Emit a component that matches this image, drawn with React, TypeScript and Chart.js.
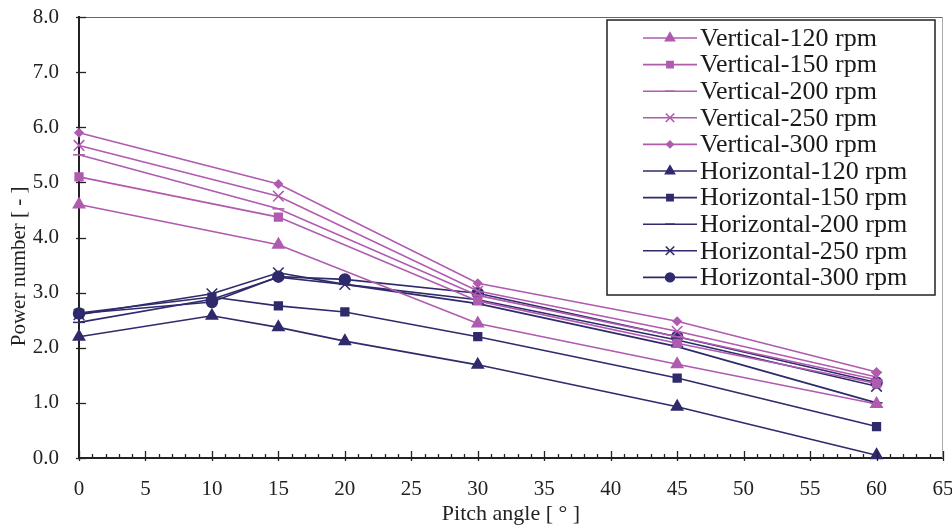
import React, { useEffect, useRef } from 'react';
import { Chart, registerables } from 'chart.js';
import { drawPoint } from 'chart.js/helpers';

Chart.register(...registerables);

// ---- Data ----
const anglesVertical = [0, 15, 30, 45, 60];
const anglesHorizontal = [0, 10, 15, 20, 30, 45, 60];

const vertical120 = [4.6, 3.87, 2.44, 1.7, 0.98];
const vertical150 = [5.1, 4.37, 2.85, 2.08, 1.35];
const vertical200 = [5.5, 4.52, 2.95, 2.2, 1.42];
const vertical250 = [5.67, 4.75, 3.03, 2.3, 1.47];
const vertical300 = [5.9, 4.97, 3.17, 2.48, 1.56];

const horizontal120 = [2.2, 2.58, 2.37, 2.12, 1.69, 0.93, 0.05];
const horizontal150 = [2.63, 2.92, 2.76, 2.65, 2.2, 1.45, 0.57];
const horizontal200 = [2.46, 2.88, 3.28, 3.15, 2.8, 2.02, 1.0];
const horizontal250 = [2.6, 2.98, 3.36, 3.15, 2.87, 2.14, 1.3];
const horizontal300 = [2.62, 2.83, 3.29, 3.24, 2.99, 2.2, 1.37];

const seriesLabels = [
  'Vertical-120 rpm',
  'Vertical-150 rpm',
  'Vertical-200 rpm',
  'Vertical-250 rpm',
  'Vertical-300 rpm',
  'Horizontal-120 rpm',
  'Horizontal-150 rpm',
  'Horizontal-200 rpm',
  'Horizontal-250 rpm',
  'Horizontal-300 rpm',
];

const xTitle = 'Pitch angle [ \u00b0 ]';
const yTitle = 'Power number [ - ]';

const VCOLOR = '#b05ab0';
const HCOLOR = '#2f2a6b';
const SERIF = "'Liberation Serif', 'DejaVu Serif', serif";

const markerStyles = [
  { pointStyle: 'triangle', radius: 6.5 },
  { pointStyle: 'rect', radius: 5.5 },
  { pointStyle: 'line', radius: 6 },
  { pointStyle: 'crossRot', radius: 7.5 },
  { pointStyle: 'rectRot', radius: 4 },
];
const markerStylesH = [
  { pointStyle: 'triangle', radius: 6.5 },
  { pointStyle: 'rect', radius: 5.5 },
  { pointStyle: 'line', radius: 6 },
  { pointStyle: 'crossRot', radius: 7.5 },
  { pointStyle: 'circle', radius: 5.5 },
];

const toPoints = (xs: number[], ys: number[]) => xs.map((x, i) => ({ x, y: ys[i] }));

const axisDecorPlugin = {
  id: 'axisDecor',
  afterDatasetsDraw(chart: any) {
    const { ctx, chartArea } = chart;
    const xs = chart.scales.x;
    const ys = chart.scales.y;
    ctx.save();
    ctx.lineWidth = 1;
    ctx.strokeStyle = '#666';
    ctx.beginPath();
    ctx.moveTo(chartArea.left, chartArea.top + 0.5);
    ctx.lineTo(chartArea.right, chartArea.top + 0.5);
    ctx.stroke();
    ctx.strokeStyle = '#aaa';
    ctx.beginPath();
    ctx.moveTo(chartArea.right - 0.5, chartArea.top);
    ctx.lineTo(chartArea.right - 0.5, chartArea.bottom);
    ctx.stroke();
    ctx.strokeStyle = '#222';
    ctx.lineWidth = 1.3;
    for (let v = xs.min; v <= xs.max; v += 1) {
      const px = Math.round(xs.getPixelForValue(v)) + 0.5;
      const major = v % 5 === 0;
      ctx.beginPath();
      ctx.moveTo(px, chartArea.bottom + (major ? 3 : 0));
      ctx.lineTo(px, chartArea.bottom - (major ? 7 : 4));
      ctx.stroke();
    }
    for (let v = ys.min; v <= ys.max; v += 1) {
      const py = Math.round(ys.getPixelForValue(v)) + 0.5;
      ctx.beginPath();
      ctx.moveTo(chartArea.left - 3, py);
      ctx.lineTo(chartArea.left + 7, py);
      ctx.stroke();
    }
    ctx.restore();
  },
};

const boxLegendPlugin = {
  id: 'boxLegend',
  afterDraw(chart: any) {
    const { ctx } = chart;
    const bx = 607, by = 20, bw = 328, bh = 275;
    ctx.save();
    ctx.fillStyle = '#fff';
    ctx.fillRect(bx, by, bw, bh);
    ctx.strokeStyle = '#222';
    ctx.lineWidth = 1.5;
    ctx.strokeRect(bx, by, bw, bh);
    const rowH = 26.6;
    chart.data.datasets.forEach((ds: any, i: number) => {
      const y = by + 18 + i * rowH;
      ctx.strokeStyle = ds.borderColor;
      ctx.lineWidth = 1.6;
      ctx.beginPath();
      ctx.moveTo(643, y);
      ctx.lineTo(697, y);
      ctx.stroke();
      ctx.fillStyle = ds.borderColor;
      drawPoint(
        ctx,
        {
          pointStyle: ds.pointStyle,
          radius: ds.pointRadius * 0.8,
          borderWidth: 1.5,
          rotation: 0,
        } as any,
        670,
        y
      );
      ctx.fillStyle = '#1a1a1a';
      ctx.font = `26px ${SERIF}`;
      ctx.textBaseline = 'middle';
      ctx.textAlign = 'left';
      ctx.fillText(ds.label, 700, y + 1);
    });
    ctx.restore();
  },
};

export default function App() {
  const canvasRef = useRef<HTMLCanvasElement | null>(null);

  useEffect(() => {
    const canvas = canvasRef.current;
    if (!canvas) return;
    const vData = [vertical120, vertical150, vertical200, vertical250, vertical300];
    const hData = [horizontal120, horizontal150, horizontal200, horizontal250, horizontal300];
    const datasets: any[] = [];
    vData.forEach((vals, i) => {
      datasets.push({
        label: seriesLabels[i],
        data: toPoints(anglesVertical, vals),
        borderColor: VCOLOR,
        backgroundColor: VCOLOR,
        borderWidth: 1.6,
        pointStyle: markerStyles[i].pointStyle,
        pointRadius: markerStyles[i].radius,
        pointBorderWidth: 1.5,
        showLine: true,
        clip: false,
      });
    });
    hData.forEach((vals, i) => {
      datasets.push({
        label: seriesLabels[5 + i],
        data: toPoints(anglesHorizontal, vals),
        borderColor: HCOLOR,
        backgroundColor: HCOLOR,
        borderWidth: 1.6,
        pointStyle: markerStylesH[i].pointStyle,
        pointRadius: markerStylesH[i].radius,
        pointBorderWidth: 1.5,
        showLine: true,
        clip: false,
      });
    });

    const chart = new Chart(canvas, {
      type: 'scatter',
      data: { datasets },
      options: {
        animation: false,
        responsive: false,
        devicePixelRatio: 1,
        layout: { padding: { top: 17, right: 9, left: 0, bottom: 0 } },
        plugins: {
          legend: { display: false },
          tooltip: { enabled: false },
        },
        scales: {
          x: {
            type: 'linear',
            min: 0,
            max: 65,
            grid: { display: false, drawTicks: false },
            border: { display: true, color: '#222', width: 2 },
            ticks: {
              stepSize: 5,
              padding: 19,
              color: '#222',
              font: { family: SERIF, size: 21 },
              maxRotation: 0,
            },
            title: {
              display: true,
              text: xTitle,
              color: '#222',
              font: { family: SERIF, size: 22 },
              padding: { top: 0, bottom: 3 },
            },
            afterFit: (scale: any) => {
              scale.height = 72;
              scale.paddingLeft = 0;
              scale.paddingRight = 0;
            },
          },
          y: {
            type: 'linear',
            min: 0,
            max: 8,
            grid: { display: false, drawTicks: false },
            border: { display: true, color: '#222', width: 2 },
            ticks: {
              stepSize: 1,
              padding: 20,
              color: '#222',
              font: { family: SERIF, size: 21 },
              callback: (v: any) => Number(v).toFixed(1),
            },
            title: {
              display: true,
              text: yTitle + '\u00a0'.repeat(11),
              color: '#222',
              font: { family: SERIF, size: 21 },
              padding: { top: 7, bottom: 0 },
            },
            afterFit: (scale: any) => {
              scale.width = 79;
              scale.paddingTop = 0;
              scale.paddingBottom = 0;
            },
          },
        },
      } as any,
      plugins: [axisDecorPlugin, boxLegendPlugin],
    });
    return () => chart.destroy();
  }, []);

  return (
    <div style={{ position: 'fixed', left: 0, top: 0, width: 952, height: 530, background: '#fff' }}>
      <canvas ref={canvasRef} width={952} height={530} />
    </div>
  );
}
